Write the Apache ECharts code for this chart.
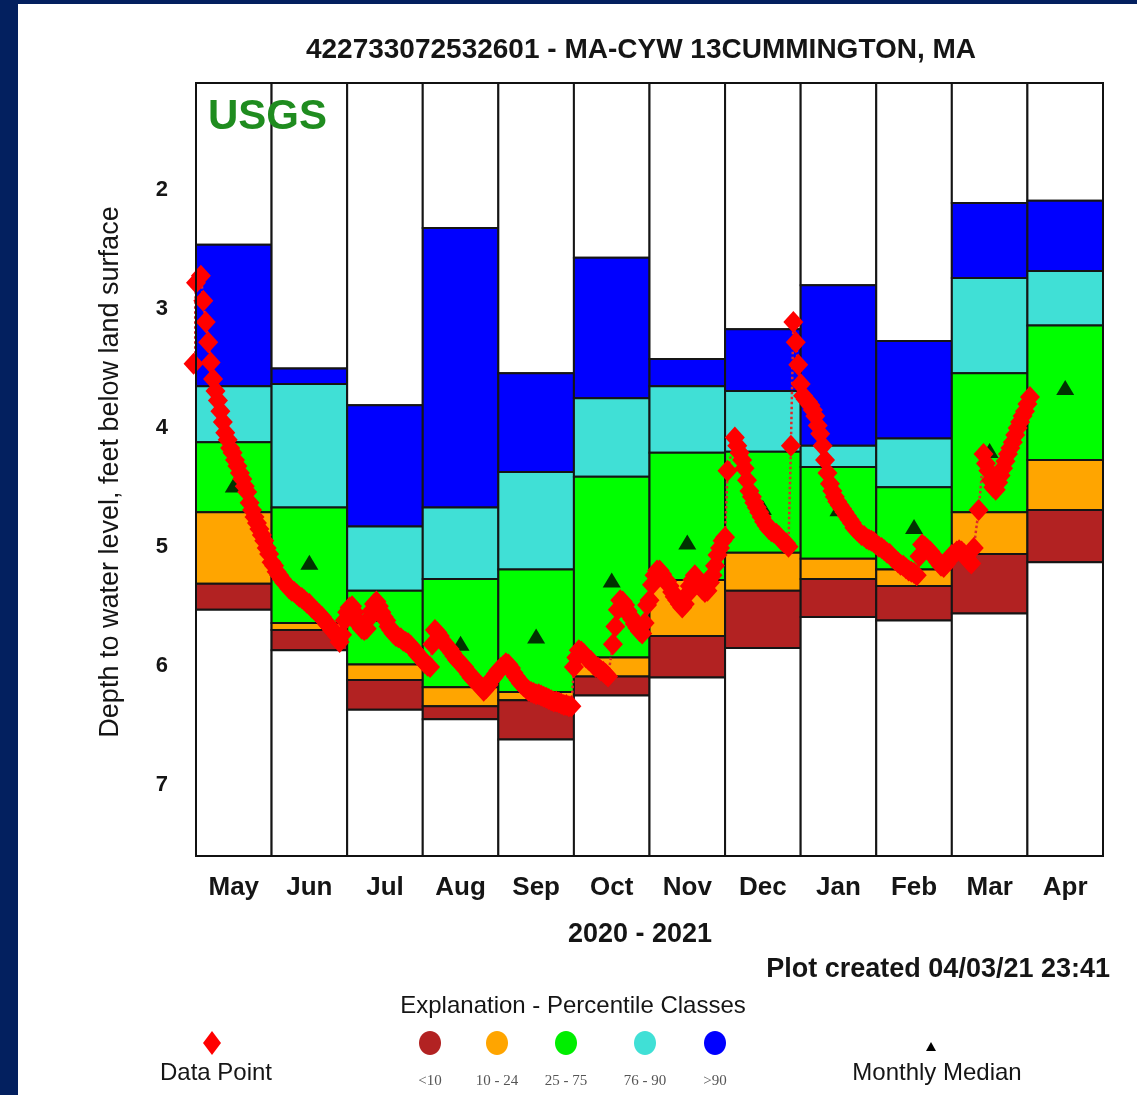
<!DOCTYPE html>
<html><head><meta charset="utf-8">
<script src="https://cdn.jsdelivr.net/npm/echarts@6/dist/echarts.min.js"></script>
<style>
html,body{margin:0;padding:0;background:#03205f;width:1137px;height:1095px;overflow:hidden}
#sheet{position:absolute;left:18px;top:4px;width:1119px;height:1091px;background:#fff}
#chart{position:absolute;left:0;top:0;width:1137px;height:1095px}
</style></head><body>
<div id="sheet"></div><div id="chart"></div>
<script>
// ---- categories ----
const months = ['May','Jun','Jul','Aug','Sep','Oct','Nov','Dec','Jan','Feb','Mar','Apr'];
const monthDays = [31,30,31,31,30,31,30,31,31,28,31,30];
const yTicks = [2,3,4,5,6,7];

// ---- percentile class boundaries (depth, ft) ----
const pMax = [2.46,3.50,3.81,2.32,3.54,2.57,3.42,3.17,2.80,3.27,2.11,2.09];
const p90  = [3.65,3.63,4.83,4.67,4.37,3.75,3.65,3.69,4.15,4.09,2.74,2.68];
const p75  = [4.12,4.67,5.37,5.27,5.19,4.41,4.21,4.20,4.33,4.50,3.54,3.14];
const p25  = [4.71,5.64,5.99,6.18,6.22,5.93,5.28,5.05,5.10,5.19,4.71,4.27];
const p10  = [5.31,5.70,6.12,6.34,6.29,6.09,5.75,5.37,5.27,5.33,5.06,4.69];
const pMin = [5.53,5.87,6.37,6.45,6.62,6.25,6.10,5.85,5.59,5.62,5.56,5.13];
const medians = [4.48,5.13,5.57,5.81,5.75,5.28,4.96,4.67,4.68,4.83,4.19,3.66];

// ---- daily observations (index = day of month - 1) ----
const obsPrior = 3.46; // reading just before May 1
const obsMay = [2.78,null,2.72,2.93,3.11,3.28,3.45,3.59,3.69,3.77,3.86,3.95,4.04,4.10,4.17,4.21,4.27,4.32,4.38,4.43,4.49,4.54,4.63,4.69,4.75,4.80,4.85,4.90,4.95,5.01,5.06];
const obsJun = [5.13,5.16,5.21,5.24,5.27,5.30,5.32,5.35,5.37,5.38,5.40,5.42,5.43,5.45,5.47,5.48,5.51,5.53,5.55,5.57,5.59,5.62,5.65,5.67,5.70,5.72,5.75,5.80,5.74,5.62];
const obsJul = [5.55,5.51,5.50,5.55,5.62,5.66,5.69,5.70,5.69,5.60,5.54,5.48,5.46,5.50,5.55,5.59,5.62,5.67,5.70,5.73,5.75,5.76,5.77,5.79,5.80,5.81,5.83,5.86,5.88,5.91,5.93];
const obsAug = [5.95,5.98,6.00,6.01,5.82,5.70,5.72,5.75,5.79,5.81,5.84,5.86,5.89,5.92,5.95,5.97,5.99,6.01,6.04,6.07,6.10,6.12,6.13,6.16,6.18,6.21,6.19,6.16,6.12,6.10,6.07];
const obsSep = [6.04,6.02,6.00,5.98,5.99,6.02,6.06,6.09,6.12,6.15,6.17,6.19,6.21,6.22,6.23,6.24,6.24,6.25,6.26,6.27,6.28,6.29,6.30,6.30,6.31,6.32,6.33,6.33,6.34,6.34];
const obsOct = [6.01,5.93,5.87,5.88,5.90,5.93,5.95,5.96,5.99,6.01,6.02,6.04,6.05,6.07,6.09,null,5.82,5.67,5.53,5.45,5.46,5.49,5.54,5.58,5.61,5.65,5.68,5.71,5.73,5.64,5.49];
const obsNov = [5.45,5.32,5.24,5.20,5.20,5.23,5.27,5.29,5.33,5.38,5.42,5.45,5.48,5.51,5.48,5.40,5.33,5.28,5.24,5.28,5.32,5.36,5.38,5.37,5.30,5.24,5.16,5.07,5.01,4.95];
const obsDec = [4.92,4.36,null,null,4.08,4.15,4.21,4.27,4.34,4.44,4.53,4.58,4.63,4.67,4.71,4.75,4.79,4.82,4.85,4.87,4.88,4.89,4.91,4.94,4.96,4.97,5.00,4.15,3.11,3.28,3.47];
const obsJan = [3.63,3.73,3.76,3.78,3.81,3.85,3.90,3.98,4.05,4.15,4.27,4.38,4.47,4.53,4.58,4.62,4.65,4.68,4.71,4.74,4.77,4.80,4.84,4.86,4.88,4.90,4.91,4.93,4.94,4.95,4.96];
const obsFeb = [4.98,5.00,5.01,5.03,5.05,5.06,5.09,5.11,5.13,5.15,5.16,5.18,5.20,5.21,5.22,5.24,5.08,4.98,5.00,5.02,5.04,5.07,5.10,5.13,5.16,5.17,5.14,5.10];
const obsMar = [5.07,5.06,5.04,5.03,5.04,5.06,5.09,5.12,5.14,5.01,null,4.69,null,4.22,4.30,4.36,4.44,4.50,4.52,4.46,4.40,4.34,4.28,4.22,4.17,4.12,4.06,4.00,3.95,3.90,3.86];
const obsApr = [3.80,3.74];

// ---- build ----
const Y_MIN = 1.1, Y_MAX = 7.6;
const obsMonths = [obsMay,obsJun,obsJul,obsAug,obsSep,obsOct,obsNov,obsDec,obsJan,obsFeb,obsMar,obsApr];
const obsData = [[-1/31, obsPrior]];
obsMonths.forEach((arr, m) => arr.forEach((v, d) => {
  if (v !== null) obsData.push([m + d / monthDays[m], v]);
}));
const classData = months.map((m, i) => [i, pMax[i], p90[i], p75[i], p25[i], p10[i], pMin[i]]);
const medianData = medians.map((v, i) => [i + 0.5, v]);
const classColors = ['#ffffff','#0000ff','#40e0d6','#00ff00','#ffa500','#b22222','#ffffff'];

const chart = echarts.init(document.getElementById('chart'), null, {renderer: 'canvas'});
const F = 'Liberation Sans, Arial, sans-serif';
function txt(x, y, text, size, weight, align, extra) {
  return Object.assign({
    type: 'text', x: x, y: y, z: 100,
    style: Object.assign({
      text: text, fill: '#151515', font: (weight || 'normal') + ' ' + size + 'px ' + F,
      align: align || 'center', textAlign: align || 'center',
      verticalAlign: 'middle', textVerticalAlign: 'middle'
    }, (extra && extra.style) || {})
  }, extra && extra.rotation !== undefined ? {rotation: extra.rotation} : {});
}
const legendCircles = [
  {x: 430, c: '#b22222', t: '<10'},
  {x: 497, c: '#ffa500', t: '10 - 24'},
  {x: 566, c: '#00ee00', t: '25 - 75'},
  {x: 645, c: '#40e0d6', t: '76 - 90'},
  {x: 715, c: '#0000ff', t: '>90'}
];
const graphics = [
  txt(641, 50, '422733072532601 - MA-CYW 13CUMMINGTON, MA', 28, 'bold'),
  txt(208, 117, 'USGS', 42, 'bold', 'left', {style: {fill: '#1f8c1f'}}),
  txt(111, 472, 'Depth to water level, feet below land surface', 27, 'normal', 'center', {rotation: Math.PI / 2}),
  txt(640, 935, '2020 - 2021', 27, 'bold'),
  txt(1110, 970, 'Plot created 04/03/21 23:41', 27, 'bold', 'right'),
  txt(573, 1006, 'Explanation - Percentile Classes', 24, 'normal'),
  {type: 'polygon', z: 100, shape: {points: [[212,1031],[221,1043],[212,1055],[203,1043]]}, style: {fill: '#ff0000'}},
  txt(216, 1073, 'Data Point', 24, 'normal'),
  {type: 'polygon', z: 100, shape: {points: [[931,1042],[936,1051],[926,1051]]}, style: {fill: '#000'}},
  txt(937, 1073, 'Monthly Median', 24, 'normal')
];
legendCircles.forEach(o => {
  graphics.push({type: 'ellipse', z: 100, shape: {cx: o.x, cy: 1043, rx: 11, ry: 12}, style: {fill: o.c}});
  graphics.push(txt(o.x, 1081, o.t, 15, 'normal', 'center', {style: {fill: '#555', font: 'normal 15px Liberation Serif, serif'}}));
});

chart.setOption({
  animation: false,
  backgroundColor: 'transparent',
  grid: {left: 196, top: 83, right: 34, bottom: 239, show: true, borderColor: '#111', borderWidth: 2, backgroundColor: 'transparent', z: 10},
  xAxis: [
    {type: 'category', data: months, boundaryGap: true, position: 'bottom',
     axisLine: {show: false}, axisTick: {show: false}, splitLine: {show: false},
     axisLabel: {margin: 19, fontSize: 26, fontWeight: 'bold', fontFamily: F, color: '#151515'}},
    {type: 'value', min: 0, max: 12, show: false}
  ],
  yAxis: {type: 'value', inverse: true, min: Y_MIN, max: Y_MAX, splitNumber: 6,
    axisLine: {show: false}, axisTick: {show: false}, splitLine: {show: false},
    axisLabel: {margin: 28, fontSize: 22, fontWeight: 'bold', fontFamily: F, color: '#151515',
      showMinLabel: false, showMaxLabel: false,
      formatter: v => (yTicks.indexOf(Math.round(v)) >= 0 && Math.abs(v - Math.round(v)) < 1e-6) ? String(Math.round(v)) : ''}},
  graphic: graphics,
  series: [
    {type: 'custom', xAxisIndex: 1, yAxisIndex: 0, z: 2, data: classData,
     encode: {x: 0, y: [1,2,3,4,5,6]},
     renderItem: function (params, api) {
       const i = api.value(0);
       const xa = api.coord([i, Y_MIN])[0], xb = api.coord([i + 1, Y_MIN])[0];
       const vals = [Y_MIN, api.value(1), api.value(2), api.value(3), api.value(4), api.value(5), api.value(6), Y_MAX];
       const children = [];
       for (let k = 0; k < 7; k++) {
         const ya = api.coord([i, vals[k]])[1], yb = api.coord([i, vals[k + 1]])[1];
         children.push({type: 'rect', shape: {x: xa, y: ya, width: xb - xa, height: yb - ya},
           style: {fill: classColors[k], stroke: '#151515', lineWidth: 2}});
       }
       return {type: 'group', children: children};
     }},
    {type: 'scatter', xAxisIndex: 1, yAxisIndex: 0, z: 4, data: medianData,
     symbol: 'triangle', symbolSize: [18, 15], itemStyle: {color: '#000'}},
    {type: 'line', xAxisIndex: 1, yAxisIndex: 0, z: 6, data: obsData, clip: false,
     symbol: 'diamond', symbolSize: [20, 22], showSymbol: true,
     itemStyle: {color: '#ff0000', borderWidth: 0},
     lineStyle: {type: 'dotted', color: '#e02828', width: 2.5}}
  ]
});
</script>
</body></html>
